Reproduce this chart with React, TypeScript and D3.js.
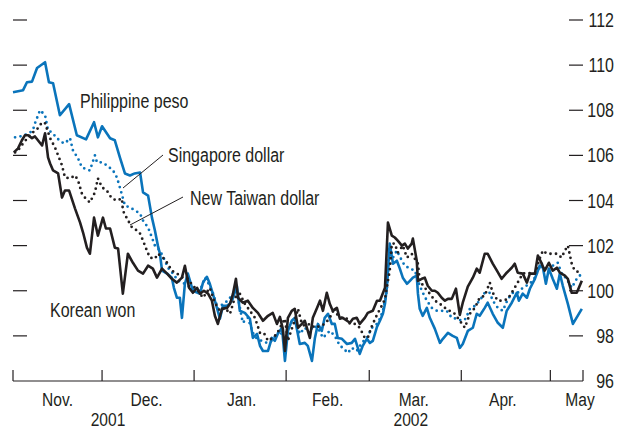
import React from 'react';
import * as d3 from 'd3';

// Day offsets from 1 Nov 2001, index values
const START = new Date(2001, 10, 1);
const END = new Date(2002, 4, 12);

const philippinePeso: [number, number][] = [[0,108.8],[3.4,108.89],[4.7,109.24],[6.4,109.27],[8.1,109.87],[10.8,110.13],[12.1,109.24],[13.5,109.2],[15.8,107.78],[18.9,108.27],[21.5,106.89],[24.6,106.71],[27.3,107.47],[28.6,106.8],[30,107.29],[32.7,106.76],[34.3,106.67],[36,105.91],[37.7,105.2],[39.4,105.11],[41,105.2],[42.8,105.24],[43.8,104.36],[45.5,104.22],[46.8,103.24],[47.8,102.67],[48.8,102.0],[49.5,101.64],[50.2,100.89],[51.9,100.76],[53.5,100.58],[54.2,100.13],[55.2,99.69],[56.2,99.69],[56.9,98.8],[57.9,100.31],[58.9,100.76],[60.6,100.0],[63,99.87],[64,100.36],[65.3,100.62],[66.3,100.31],[67.3,99.87],[68.7,99.24],[69.7,98.76],[70.7,99.33],[72,99.33],[73,99.42],[74,99.64],[75.4,100.22],[76.4,99.11],[78.1,99.02],[79.8,98.76],[80.8,97.91],[82.2,98.09],[83.2,97.56],[84.2,97.33],[85.9,97.33],[87.2,97.91],[88.2,97.78],[89.2,98.09],[90.6,98.36],[91.6,96.89],[92.6,98.22],[93.9,98.67],[94.9,98.8],[96.6,97.64],[98.3,97.69],[99.3,97.56],[100.7,96.89],[101.7,97.91],[102.7,98.53],[104,98.22],[105,98.8],[106.1,98.98],[107.4,98.53],[108.4,98.53],[109.4,97.91],[110.8,97.87],[112.5,97.64],[114.1,97.69],[115.2,97.87],[116.8,97.2],[117.8,97.56],[119.2,97.87],[120.2,97.69],[121.2,97.78],[122.6,98.4],[123.6,98.67],[124.6,98.98],[125.3,99.42],[125.9,100.13],[126.3,100.89],[126.9,102.09],[128,101.2],[129.3,101.33],[130.3,100.98],[131.3,100.58],[132.7,100.31],[133.7,100.44],[134.7,100.58],[136,100.67],[136.4,99.87],[137,99.2],[138,98.89],[139.4,99.24],[140.4,98.8],[142.1,98.31],[143.8,97.69],[144.8,97.87],[146.5,98.13],[148.1,98.0],[149.5,97.91],[150.5,97.47],[151.5,97.64],[153.2,98.22],[154.9,98.36],[156.2,98.98],[157.2,98.89],[158.9,99.24],[159.9,99.47],[161.6,98.98],[163.3,98.58],[165,98.36],[166.3,99.11],[168,99.47],[169.7,99.91],[170.4,99.56],[171.7,99.87],[173.1,99.69],[174.1,100.09],[175.8,100.53],[177.4,101.11],[178.5,101.02],[179.5,100.31],[180.5,100.98],[181.8,100.53],[183.2,100.09],[184.2,100.76],[185.2,100.22],[186.9,99.42],[188.6,98.53],[191.6,99.2]];

const singaporeDollar: [number, number][] = [[0.7,106.8],[2.4,106.84],[3.7,106.89],[5.4,106.98],[6.7,107.11],[7.4,107.42],[9.1,108.0],[10.8,107.78],[11.8,107.11],[13.1,107.02],[14.8,106.76],[16.5,106.58],[17.5,106.53],[19.2,106.76],[20.2,106.22],[21.9,105.87],[23.2,105.47],[24.9,105.38],[25.9,105.33],[27.6,106.0],[28.3,105.69],[30,105.69],[31.6,105.56],[33.7,105.33],[35,105.02],[36,104.58],[37.7,103.78],[39.4,103.69],[41.1,103.56],[42.8,103.42],[43.8,103.11],[45.5,102.8],[46.8,102.36],[47.8,102.0],[49.5,101.78],[51.2,101.33],[52.2,101.02],[53.9,100.76],[55.6,100.44],[57.2,100.36],[58.9,100.22],[60.6,100.09],[62,100.0],[63,100.0],[64.6,100.58],[65.7,100.36],[67.3,99.91],[69,99.2],[70.7,99.42],[72.4,99.56],[74.1,99.87],[75.8,99.69],[77.4,98.58],[79.1,98.8],[80.8,98.13],[82.2,97.87],[83.8,97.78],[85.5,97.69],[87.2,97.78],[88.9,98.09],[89.9,98.22],[91.6,97.78],[93.3,98.53],[94.3,98.67],[95.6,98.58],[96.6,98.09],[98.3,98.36],[100,98.13],[101,98.44],[102.7,98.36],[104.4,97.91],[105.7,98.09],[106.7,98.22],[108.4,98.0],[110.1,97.56],[111.1,97.47],[112.8,97.24],[114.1,97.47],[115.8,97.33],[117.5,97.69],[119.2,97.91],[120.9,98.36],[122.6,98.53],[123.6,98.76],[124.6,99.11],[125.9,100.0],[126.3,100.8],[126.9,102.0],[128,101.47],[129.3,101.78],[131,101.33],[132,101.11],[133.7,100.98],[135.4,100.89],[136.4,100.44],[137.7,100.0],[139.4,99.56],[141.1,99.24],[142.8,99.11],[144.4,99.11],[146.1,99.11],[147.8,98.8],[149.5,98.76],[151.2,98.67],[152.5,98.76],[153.9,99.2],[155.6,99.33],[157.2,99.56],[158.9,99.91],[160.6,99.91],[161.6,99.56],[163.3,99.24],[165,99.11],[166.7,99.64],[168.4,99.91],[170,99.91],[171.7,100.13],[174.1,100.31],[175.8,100.58],[176.8,100.89],[178.1,101.2],[179.1,100.98],[180.1,100.89],[181.8,101.11],[183.5,101.24],[184.8,100.76],[186.5,100.53],[188.2,100.13],[189.9,100.53],[191.6,100.76]];

const newTaiwanDollar: [number, number][] = [[0.7,106.13],[1.7,106.22],[3.4,106.53],[5.1,106.8],[6.7,107.02],[8.4,107.2],[9.8,107.47],[10.8,107.42],[12.5,106.76],[14.1,106.36],[15.2,106.0],[16.5,105.56],[17.5,105.02],[19.2,104.98],[20.9,105.11],[21.9,104.89],[23.2,104.31],[24.2,104.13],[25.9,103.91],[27.6,104.36],[28.6,104.98],[30,104.58],[31.6,104.44],[33.3,104.09],[35,104.0],[36.7,104.09],[37,103.56],[38.4,103.2],[40.1,102.8],[41.8,102.67],[42.8,102.53],[43.8,102.22],[45.1,101.78],[46.1,101.47],[47.8,101.42],[48.8,101.64],[50.5,101.47],[51.9,101.24],[53.5,100.89],[55.2,100.76],[57.2,100.58],[58.9,100.53],[60.6,100.22],[62.3,100.0],[64,99.69],[66.3,100.13],[68,99.47],[69.7,99.11],[71.4,99.24],[73.1,98.98],[74.7,99.69],[76.4,99.87],[78.1,99.42],[79.8,99.11],[81.5,98.8],[83.2,98.13],[84.5,98.13],[85.9,97.78],[87.5,97.91],[88.9,98.09],[90.6,98.53],[91.6,98.76],[92.6,97.78],[93.9,98.31],[94.9,98.67],[96,99.2],[97.3,98.53],[98.3,98.44],[100,98.53],[101.7,98.36],[103.4,98.44],[105.1,98.53],[106.7,98.8],[108.4,99.24],[109.4,98.89],[110.8,98.8],[112.5,98.76],[113.5,98.53],[115.2,98.53],[116.8,98.36],[118.5,97.91],[119.5,97.91],[120.9,98.44],[122.6,98.93],[124.2,99.33],[125.3,99.64],[126.3,100.44],[126.9,100.89],[127.6,102.09],[128.6,102.09],[129.6,101.69],[131.3,102.0],[132.7,101.47],[134.3,101.64],[136.4,101.2],[137,100.44],[138.7,100.13],[140.4,99.87],[142.1,99.56],[143.8,99.42],[145.5,99.24],[147.1,99.11],[148.8,98.98],[150.5,98.67],[152.2,98.36],[153.9,98.98],[155.6,99.24],[157.2,99.69],[158.9,99.78],[160.6,100.36],[161.6,99.91],[163.3,99.56],[165,99.56],[166.7,99.64],[168.4,100.0],[170,100.36],[171.7,100.76],[173.4,100.8],[174.7,100.76],[175.8,100.76],[177.4,101.42],[178.5,101.78],[179.8,101.64],[181.8,101.64],[183.2,101.64],[184.8,101.47],[185.9,101.78],[186.9,102.0],[188.2,101.2],[189.2,100.89],[191.2,100.8]];

const koreanWon: [number, number][] = [[0.3,106.13],[1.7,106.31],[3,106.67],[4,106.89],[5.1,106.89],[6.4,106.76],[7.4,106.84],[8.4,106.67],[9.8,106.44],[10.8,106.98],[11.8,105.91],[12.5,105.64],[13.5,105.33],[15.2,105.2],[16.5,104.13],[17.5,104.44],[18.9,104.44],[20.9,103.64],[22.6,103.02],[23.6,102.58],[24.9,101.91],[25.9,101.64],[27.3,103.24],[28.6,102.44],[30.3,103.24],[31.3,102.76],[32.7,102.76],[34.3,101.91],[35.4,101.87],[37,99.87],[38.7,101.64],[40.4,101.24],[42.1,100.89],[43.8,100.76],[45.5,101.11],[47.1,100.98],[48.5,100.58],[50.2,100.98],[51.9,100.76],[53.5,100.53],[55.2,100.36],[56.9,100.58],[57.9,101.11],[59.3,100.13],[60.6,99.91],[62,100.13],[63,99.87],[64.3,100.0],[65.7,99.87],[67,99.56],[68,98.89],[69,98.53],[70.4,99.2],[72.1,99.24],[73.1,99.42],[74.1,99.87],[75.1,100.53],[75.8,99.69],[77.4,99.47],[79.1,99.56],[80.8,99.24],[82.5,99.02],[84.2,98.67],[85.9,98.89],[87.5,99.02],[88.9,98.53],[89.9,98.84],[90.9,98.31],[91.6,97.33],[92.6,98.8],[93.9,99.11],[94.9,99.2],[96,98.36],[97.3,98.53],[98.3,98.67],[100,97.91],[101,98.8],[102.4,99.24],[103.4,99.56],[104.4,99.11],[105.7,99.91],[106.7,99.42],[107.7,99.11],[109.1,99.24],[110.1,98.76],[111.1,98.8],[112.5,98.67],[113.5,98.58],[114.5,98.76],[115.8,98.8],[116.8,98.53],[118.5,98.8],[119.5,99.02],[121.2,99.11],[122.6,99.56],[123.6,99.56],[125.3,100.13],[126.3,103.02],[127.6,102.44],[128.6,102.36],[129.6,102.22],[131,102.0],[132,102.09],[133,101.87],[134.3,102.09],[134.7,102.31],[136,101.33],[136.4,100.44],[137.7,100.53],[138.7,100.58],[139.7,100.22],[141.1,100.0],[142.1,100.0],[143.1,99.91],[144.4,99.69],[145.5,99.56],[146.5,99.64],[147.8,99.64],[149.2,100.09],[150.5,98.93],[151.5,99.47],[153.2,100.18],[154.9,100.58],[156.2,100.98],[157.2,100.8],[158.9,101.64],[159.9,101.64],[161.6,101.2],[163,100.89],[164.6,100.53],[166.3,100.8],[168,101.02],[169,101.2],[170,100.8],[171.7,100.76],[173.1,100.36],[174.1,100.76],[175.8,100.76],[176.8,101.56],[178.1,101.2],[179.1,100.89],[180.5,101.24],[181.8,100.89],[183.2,101.02],[184.2,100.8],[185.9,100.67],[186.9,100.53],[188.2,99.91],[189.9,99.91],[191.6,100.44]];

const yTicks = [96, 98, 100, 102, 104, 106, 108, 110, 112];
const monthLabels = ['Nov.', 'Dec.', 'Jan.', 'Feb.', 'Mar.', 'Apr.', 'May'];
const monthLabelDates = ['2001-11-16', '2001-12-16', '2002-01-17', '2002-02-15', '2002-03-16', '2002-04-15', '2002-05-11'];
const yearLabels = ['2001', '2002'];
const yearLabelDates = ['2001-12-03', '2002-03-15'];

const BLUE = '#0a74bb';
const BLACK = '#231f20';
const FONT = "'Liberation Sans', Arial, sans-serif";
const FS = 19.5;
const SX = 0.82;

function Txt({ x, y, anchor = 'start', size = FS, children }: { x: number; y: number; anchor?: string; size?: number; children: React.ReactNode }) {
  return (
    <text transform={`translate(${x},${y}) scale(${SX},1)`} textAnchor={anchor} fontSize={size} fill={BLACK}>
      {children}
    </text>
  );
}

export default function App() {
  const parse = d3.timeParse('%Y-%m-%d');
  const x = d3.scaleTime().domain([START, END]).range([13, 583]);
  const y = d3.scaleLinear().domain([96, 112]).range([381, 20]);
  const toDate = (d: number) => d3.timeMinute.offset(START, Math.round(d * 1440));
  const line = d3.line<[number, number]>().x(p => x(toDate(p[0]))).y(p => y(p[1]));
  const xTicks = [...d3.timeMonth.range(START, END), END];
  const gridTicks = yTicks.filter(t => t > 96);

  return (
    <svg width={619} height={430} style={{ position: 'absolute', left: 0, top: 0, background: '#fff' }} fontFamily={FONT}>
      {gridTicks.map(t => (
        <line key={'l' + t} x1={13} x2={27} y1={y(t)} y2={y(t)} stroke={BLACK} strokeWidth={1.2} />
      ))}
      {gridTicks.map(t => (
        <line key={'r' + t} x1={569} x2={583} y1={y(t)} y2={y(t)} stroke={BLACK} strokeWidth={1.2} />
      ))}
      {yTicks.map(t => (
        <Txt key={'t' + t} x={614} y={y(t) + 7} anchor="end">{t}</Txt>
      ))}
      <line x1={x(START)} x2={x(END)} y1={381} y2={381} stroke={BLACK} strokeWidth={1.2} />
      {xTicks.map((d, i) => (
        <line key={'x' + i} x1={x(d)} x2={x(d)} y1={370} y2={381} stroke={BLACK} strokeWidth={1.2} />
      ))}
      {monthLabels.map((m, i) => (
        <Txt key={m} x={x(parse(monthLabelDates[i])!)} y={405.5} anchor="middle" size={19}>{m}</Txt>
      ))}
      {yearLabels.map((m, i) => (
        <Txt key={m} x={x(parse(yearLabelDates[i])!)} y={426} anchor="middle" size={19}>{m}</Txt>
      ))}

      <path d={line(philippinePeso)!} fill="none" stroke={BLUE} strokeWidth={2.6} strokeLinejoin="round" />
      <path d={line(singaporeDollar)!} fill="none" stroke={BLUE} strokeWidth={2.8} strokeLinecap="round" strokeDasharray="0 5.5" />
      <path d={line(newTaiwanDollar)!} fill="none" stroke={BLACK} strokeWidth={2.8} strokeLinecap="round" strokeDasharray="0 5.5" />
      <path d={line(koreanWon)!} fill="none" stroke={BLACK} strokeWidth={2.6} strokeLinejoin="round" />

      <Txt x={80} y={108}>Philippine peso</Txt>
      <Txt x={168} y={162}>Singapore dollar</Txt>
      <line x1={123} y1={188} x2={163} y2={155} stroke={BLACK} strokeWidth={1} />
      <Txt x={190} y={205}>New Taiwan dollar</Txt>
      <line x1={130} y1={225} x2={183} y2={197} stroke={BLACK} strokeWidth={1} />
      <Txt x={50} y={317}>Korean won</Txt>
    </svg>
  );
}
